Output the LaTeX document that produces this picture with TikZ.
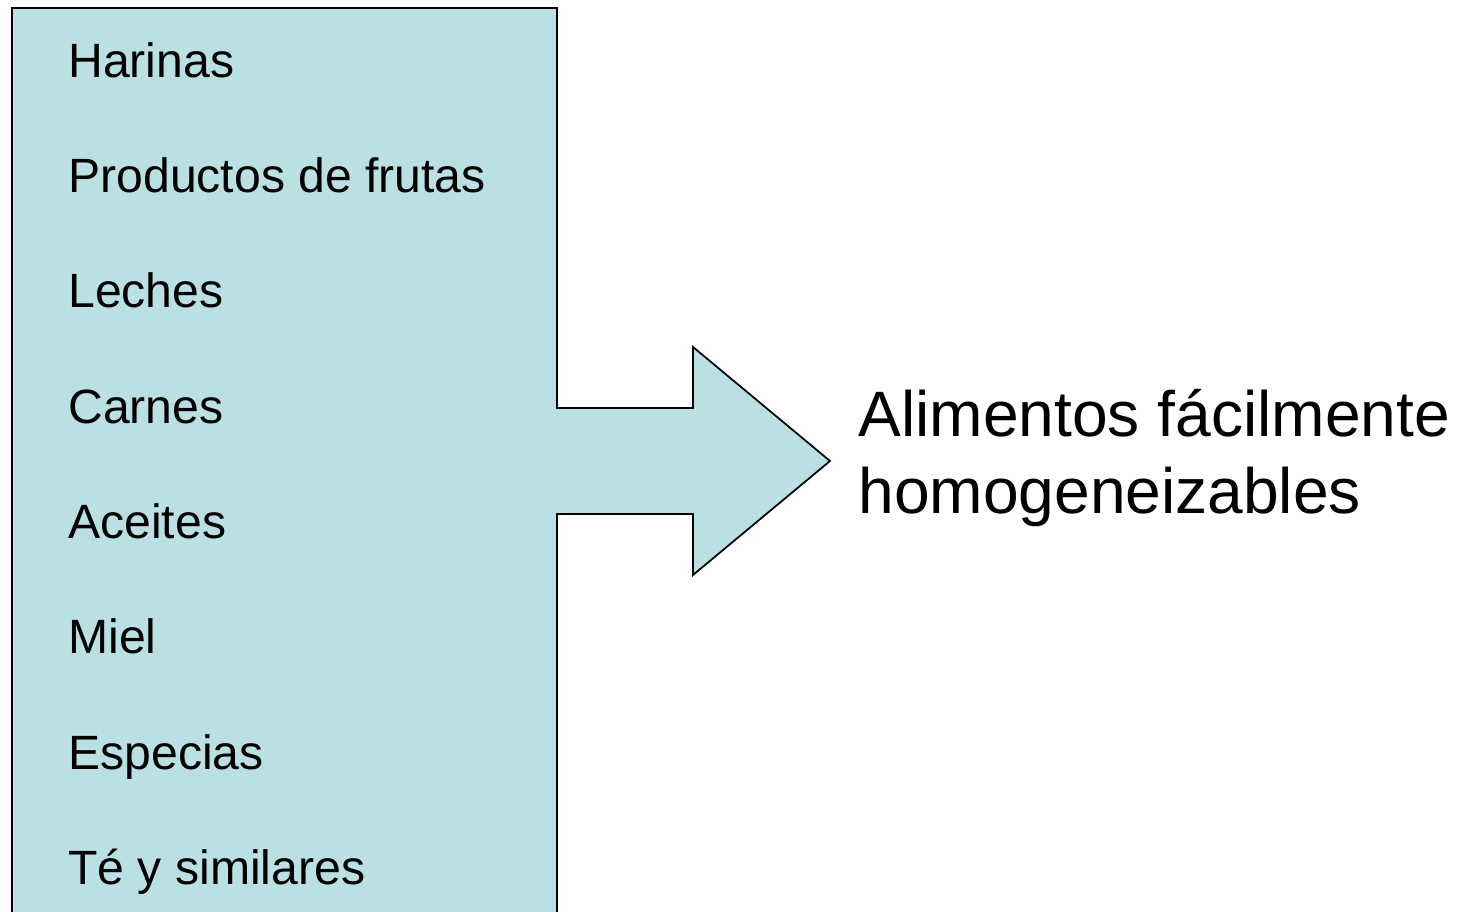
\documentclass[tikz,border=0pt]{standalone}
\usepackage{fontspec}
\setmainfont{Liberation Sans}
\usepackage{xcolor}
\definecolor{listblue}{RGB}{186,224,227}

\begin{document}
\begin{tikzpicture}[x=0.02cm, y=-0.02cm,
        item/.style={anchor=base west, inner sep=0pt, font=\fontsize{27.4}{32}\selectfont},
        result/.style={anchor=base west, inner sep=0pt, align=left, font=\fontsize{36.5}{43.5}\selectfont}]

        % 0. PAGE FRAME
        \useasboundingbox (0,0) rectangle (1458,912);
        \clip (0,0) rectangle (1458,912);

        % 1. LIST PANEL WITH ARROW (runs past the bottom edge)
        \draw[line width=1pt, fill=listblue, line join=miter]
            (12,8) -- (557,8) -- (557,408) -- (693,408) -- (693,347) -- (830,461)
            -- (693,575) -- (693,514) -- (557,514) -- (557,940) -- (12,940) -- cycle;

        % 2. LIST ITEMS
        \node[item] (harinas)   at (68,78)  {Harinas};
        \node[item] (productos) at (68,193) {Productos de frutas};
        \node[item] (leches)    at (68,308) {Leches};
        \node[item] (carnes)    at (68,423) {Carnes};
        \node[item] (aceites)   at (68,538) {Aceites};
        \node[item] (miel)      at (68,653) {Miel};
        \node[item] (especias)  at (68,769) {Especias};
        \node[item] (te)        at (68,884) {Té y similares};

        % 3. RESULT TEXT (base is the last line)
        \node[result] (alimentos) at (858,513) {Alimentos fácilmente\\homogeneizables};

\end{tikzpicture}
\end{document}
